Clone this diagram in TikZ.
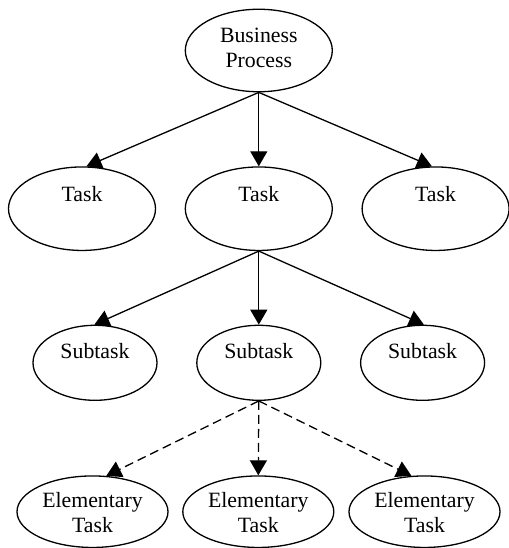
\documentclass[tikz,border=0pt]{standalone}
\usepackage{fontspec}
\setmainfont{Liberation Serif}
\usetikzlibrary{arrows.meta,shapes.geometric}
\begin{document}
\begin{tikzpicture}[x=1pt,y=-1pt,
  every node/.style={ellipse,draw,line width=1.3pt,inner sep=0pt,
    font=\fontsize{21.8pt}{25pt}\selectfont},
  bpbox/.style={minimum width=147pt,minimum height=82.5pt,text height=34.6pt,text depth=0pt},
  taskbox/.style={minimum width=147pt,minimum height=83.5pt,text height=0pt,text depth=15.4pt},
  subbox/.style={minimum width=124pt,minimum height=75pt,text height=0pt,text depth=9pt},
  elembox/.style={minimum width=151pt,minimum height=71.5pt,text height=41.6pt,text depth=0pt},
  link/.style={line width=1.3pt,-{Triangle[length=15pt,width=17pt]}},
  dlink/.style={link,dash pattern=on 9pt off 5pt}]
\useasboundingbox (0,0) rectangle (508,548);
\node[bpbox] (bp) at (258.8,50.5) {\begin{tabular}[b]{@{}c@{}}Business\\Process\end{tabular}};
\node[taskbox] (t1) at (82,208.7) {Task};
\node[taskbox] (t2) at (258.8,208.7) {Task};
\node[taskbox] (t3) at (435.6,208.7) {Task};
\node[subbox] (s1) at (95,362.8) {Subtask};
\node[subbox] (s2) at (258.8,362.8) {Subtask};
\node[subbox] (s3) at (422.6,362.8) {Subtask};
\node[elembox] (e1) at (92.5,511.7) {\begin{tabular}[b]{@{}c@{}}Elementary\\Task\end{tabular}};
\node[elembox] (e2) at (258.3,511.7) {\begin{tabular}[b]{@{}c@{}}Elementary\\Task\end{tabular}};
\node[elembox] (e3) at (424.5,511.7) {\begin{tabular}[b]{@{}c@{}}Elementary\\Task\end{tabular}};
\draw[link] (bp.south) -- (t1.84.5);
\draw[link] (bp.south) -- (t2.north);
\draw[link] (bp.south) -- (t3.95.5);
\draw[link] (t2.south) -- (s1.91.5);
\draw[link] (t2.south) -- (s2.north);
\draw[link] (t2.south) -- (s3.88.5);
\draw[dlink] (s2.south) -- (e1.69.5);
\draw[dlink] (s2.south) -- (e2.north);
\draw[dlink] (s2.south) -- (e3.110.5);
\end{tikzpicture}
\end{document}
